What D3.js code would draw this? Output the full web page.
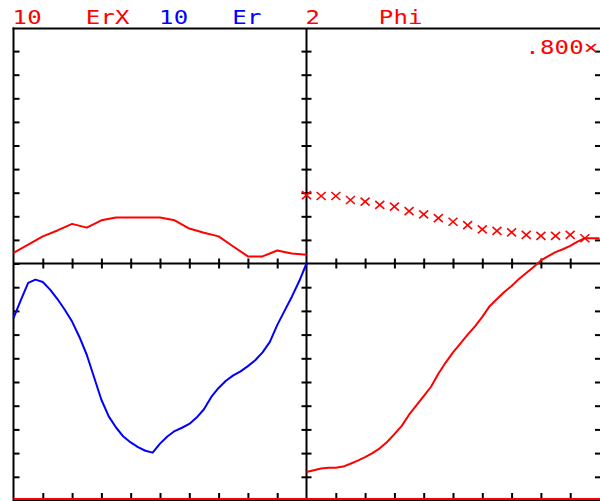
<!DOCTYPE html>
<html>
<head>
<meta charset="utf-8">
<script src="https://cdn.jsdelivr.net/npm/d3@7"></script>
<style>
  html, body { margin: 0; padding: 0; background: #fff; overflow: hidden; }
  svg { display: block; }
  text { font-family: "DejaVu Sans Mono", "Liberation Mono", monospace; }
</style>
</head>
<body>
<svg id="chart" width="600" height="501"></svg>
<script>
// Header: full-scale value and name for each trace
const seriesNames  = ["ErX", "Er", "Phi"];
const seriesScales = ["10", "10", "2"];
const markerLabel  = ".800";

// ErX magnitude, upper-left panel (21 samples over the sweep)
const erX = [0.45, 0.8, 1.15, 1.4, 1.68, 1.52, 1.83, 1.95, 1.95, 1.95, 1.95,
             1.83, 1.48, 1.3, 1.15, 0.72, 0.3, 0.3, 0.55, 0.42, 0.37];

// Er, lower-left panel (41 samples)
const er = [-2.3, -1.55, -0.82, -0.68, -0.78, -1.1, -1.5, -1.95, -2.45, -3.1,
            -3.85, -4.8, -5.75, -6.45, -6.92, -7.3, -7.55, -7.75, -7.9, -7.98,
            -7.6, -7.3, -7.07, -6.93, -6.77, -6.5, -6.15, -5.63, -5.25, -4.95,
            -4.72, -4.55, -4.33, -4.08, -3.75, -3.31, -2.6, -2.0, -1.4, -0.75, 0];

// Phi trace, lower-right panel (41 samples)
const phiTrace = [-8.8, -8.72, -8.65, -8.62, -8.62, -8.57, -8.45, -8.32, -8.17, -8.0,
                  -7.8, -7.53, -7.2, -6.85, -6.38, -5.99, -5.6, -5.2, -4.65, -4.18,
                  -3.75, -3.38, -3.0, -2.65, -2.25, -1.8, -1.5, -1.2, -0.95, -0.65,
                  -0.4, -0.15, 0.13, 0.31, 0.48, 0.6, 0.74, 0.92, 1.07, 1.07, 1.07];

// Phi markers, upper-right panel (20 samples, half-division apart)
const phiMarks = [2.9, 2.86, 2.86, 2.69, 2.62, 2.48, 2.41, 2.22, 2.08, 1.92,
                  1.77, 1.63, 1.45, 1.38, 1.32, 1.21, 1.17, 1.17, 1.21, 1.07];

// Graticule: 10 divisions each way per panel
const xDivisions = [1, 2, 3, 4, 5, 6, 7, 8, 9];
const yDivTop    = [1, 2, 3, 4, 5, 6, 7, 8, 9];
const yDivBottom = [-9, -8, -7, -6, -5, -4, -3, -2, -1];

const RED = "#ff0000", BLUE = "#0000ff", INK = "#000";

// Frame geometry
const L = 13.5, D = 306.5, R = 599.5, T = 28.5, M = 263.5, B = 500;

const svg = d3.select("#chart");

const xLeft  = d3.scaleLinear().domain([0, 10]).range([L, D]);
const xRight = d3.scaleLinear().domain([0, 10]).range([D, R]);
const yTop   = d3.scaleLinear().domain([0, 10]).range([M, 27.5]);
const yBot   = d3.scaleLinear().domain([-10, 0]).range([500.5, M]);

// ---- frame lines ----
const frame = svg.append("g").attr("stroke", INK).attr("stroke-width", 2);
frame.append("line").attr("x1", L - 1).attr("x2", 601).attr("y1", T).attr("y2", T);
frame.append("line").attr("x1", L).attr("x2", L).attr("y1", T - 1).attr("y2", 502);
frame.append("line").attr("x1", L).attr("x2", 601).attr("y1", M).attr("y2", M);
frame.append("line").attr("x1", D).attr("x2", D).attr("y1", T).attr("y2", 502);
frame.append("line").attr("x1", L).attr("x2", 601).attr("y1", B).attr("y2", B);

// ---- ticks (d3 axes, domain path removed) ----
function ticks(g) {
  g.select(".domain").remove();
  g.selectAll(".tick line").attr("stroke", INK).attr("stroke-width", 2);
  g.selectAll(".tick text").remove();
}
// crossing ticks on the centre line
[xLeft, xRight].forEach(x => {
  svg.append("g").attr("transform", `translate(0,${M - 5})`)
    .call(d3.axisBottom(x).tickValues(xDivisions).tickSize(10).tickFormat("")).call(ticks);
  svg.append("g").attr("transform", `translate(0,${B})`)
    .call(d3.axisTop(x).tickValues(xDivisions).tickSize(7).tickFormat("")).call(ticks);
});
// left edge, inward
svg.append("g").attr("transform", `translate(${L},0)`)
  .call(d3.axisRight(yTop).tickValues([0, ...yDivTop]).tickSize(6).tickFormat("")).call(ticks);
svg.append("g").attr("transform", `translate(${L},0)`)
  .call(d3.axisRight(yBot).tickValues(yDivBottom).tickSize(6).tickFormat("")).call(ticks);
// divider, crossing
svg.append("g").attr("transform", `translate(${D - 5},0)`)
  .call(d3.axisRight(yTop).tickValues(yDivTop).tickSize(10).tickFormat("")).call(ticks);
svg.append("g").attr("transform", `translate(${D - 5},0)`)
  .call(d3.axisRight(yBot).tickValues(yDivBottom).tickSize(10).tickFormat("")).call(ticks);
// right edge, inward
svg.append("g").attr("transform", `translate(600,0)`)
  .call(d3.axisLeft(yTop).tickValues(yDivTop).tickSize(5).tickFormat("")).call(ticks);
svg.append("g").attr("transform", `translate(600,0)`)
  .call(d3.axisLeft(yBot).tickValues(yDivBottom).tickSize(5).tickFormat("")).call(ticks);

// red baseline along the bottom edge
svg.append("line").attr("x1", L).attr("x2", 601).attr("y1", B - 1).attr("y2", B - 1)
  .attr("stroke", RED).attr("stroke-width", 2);

// ---- traces ----
function trace(values, x0, x1, y, color) {
  const x = d3.scaleLinear().domain([0, values.length - 1]).range([x0, x1]);
  svg.append("path")
    .datum(values)
    .attr("fill", "none")
    .attr("stroke", color)
    .attr("stroke-width", 2)
    .attr("stroke-linejoin", "round")
    .attr("d", d3.line().x((d, i) => x(i)).y(d => y(d)));
}
trace(erX, L, D, yTop, RED);
trace(er, L, D, yBot, BLUE);
trace(phiTrace, D, R, yBot, RED);

// Phi markers
const xMark = d3.scaleLinear().domain([0, phiMarks.length]).range([D, R]);
svg.append("g").selectAll("path")
  .data(phiMarks)
  .join("path")
  .attr("transform", (d, i) => `translate(${xMark(i)},${yTop(d)})`)
  .attr("d", "M-4.5,-4L4.5,4M-4.5,4L4.5,-4")
  .attr("stroke", RED)
  .attr("stroke-width", 1.6)
  .attr("fill", "none");

// ---- header text on a fixed character grid ----
const pitch = 14.65, col0 = 12.5;
function label(text, col, baseline, color) {
  svg.append("g")
    .attr("transform", `translate(${col0 + col * pitch},${baseline}) scale(1.2,1)`)
    .append("text")
    .attr("x", 0).attr("y", 0)
    .attr("font-size", 20)
    .attr("letter-spacing", pitch / 1.2 - 12.04)
    .attr("fill", color)
    .text(text);
}
const headerColors = [RED, BLUE, RED];
seriesNames.forEach((name, k) => {
  label(seriesScales[k], k * 10, 23.5, headerColors[k]);
  label(name, k * 10 + 5, 23.5, headerColors[k]);
});
label(markerLabel + "\u00d7", 35, 53.5, RED);
</script>
</body>
</html>
